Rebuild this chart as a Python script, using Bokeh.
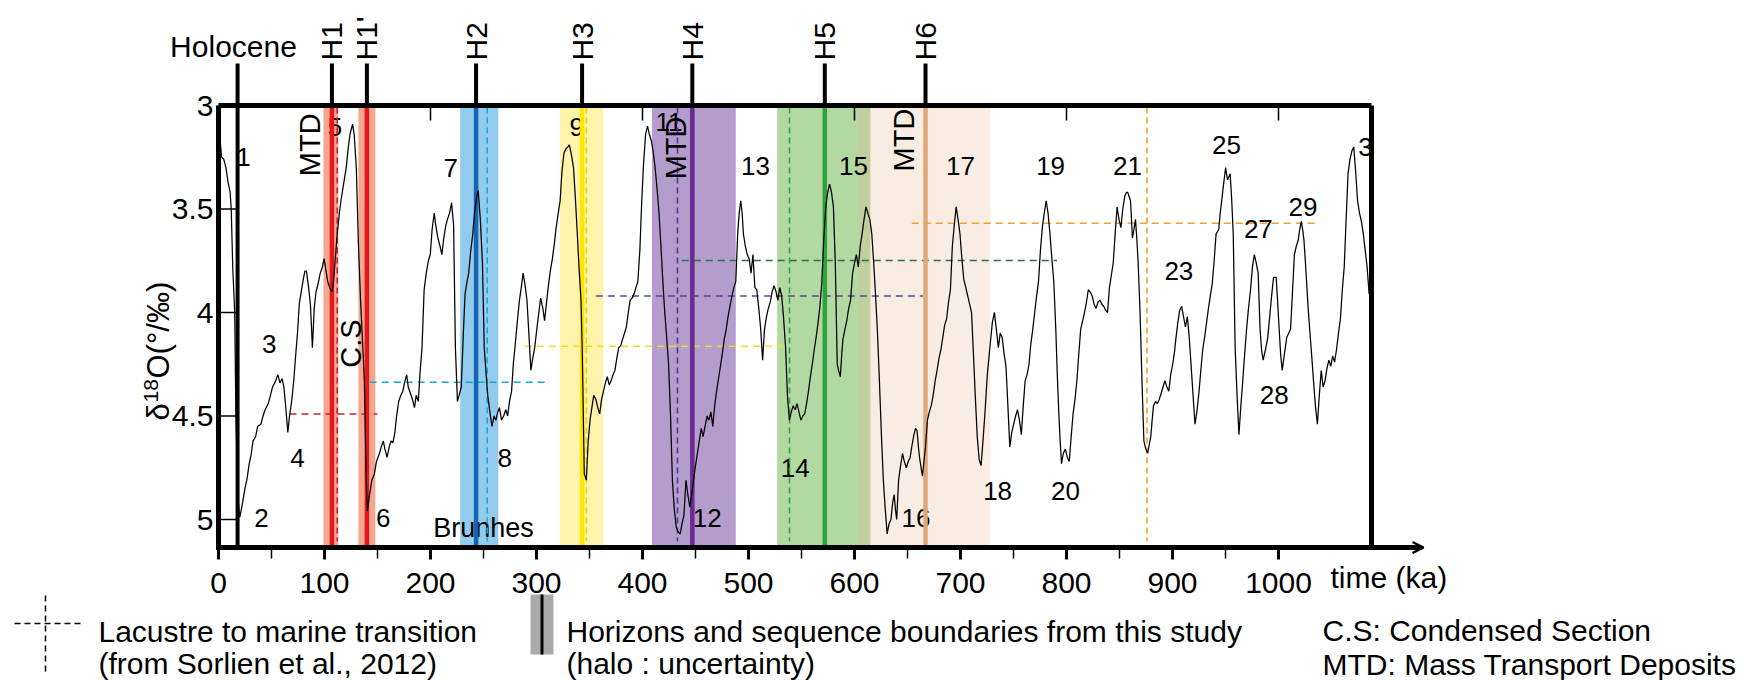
import math
from bokeh.plotting import figure
from bokeh.models import Range1d, Arrow, OpenHead
from bokeh.core.properties import value
from bokeh.embed import file_html
from bokeh.resources import INLINE

FONT = "Liberation Sans"

# ---------------- data ----------------
age_ka = [0, 1.5, 3, 5, 7, 9, 11, 12, 13.5, 15.3, 16.4, 18.3, 20, 22, 25, 27, 29, 31, 32.6, 35, 37, 40, 42, 44, 47, 49, 51, 54, 56, 58, 60, 61.7, 63.5, 65.4, 67, 69, 71, 72.6, 74.5, 76.2, 78, 80, 81.5, 83, 85, 86.7, 88.6, 90.3, 92, 94, 96, 98, 99.6, 101.5, 103, 105, 107, 108.5, 110, 112, 114, 115.5, 118, 120.5, 122.5, 124, 126.5, 128, 130, 132, 134, 136, 137.6, 139.4, 140.5, 142.5, 144.7, 147, 149, 151.9, 153.5, 155.5, 157, 159, 161, 162.8, 164.5, 166.4, 168, 170, 172, 173.9, 175.5, 177.5, 179, 181, 183, 184.9, 186.5, 188.5, 190, 192, 194, 196, 198, 199.8, 201.5, 203.5, 205, 207, 209, 210.8, 212.5, 214.4, 216, 218, 219.9, 221.8, 223.5, 225.4, 227, 229, 231, 232.6, 234.5, 236, 238, 239.9, 241.5, 243.6, 245, 247, 249, 250.7, 252.5, 254, 256, 258, 260, 261.7, 263.5, 265, 267, 269, 271, 272.8, 274.5, 276.5, 278.1, 280, 281.8, 283.7, 285.6, 287.4, 289, 291, 293, 294.7, 296.5, 298.3, 301, 303.9, 306, 307.6, 309.5, 311, 313, 315, 317, 318.5, 320.5, 322.3, 324, 325.9, 327.7, 329.6, 331, 333, 334.9, 336.7, 338.5, 340.3, 342, 343.1, 345.1, 347, 348.8, 350.5, 352.5, 354, 356, 357.8, 359.6, 361.4, 363.2, 365, 366.8, 368.6, 370.4, 372.2, 374, 375.8, 377.6, 379.4, 381.2, 383, 384.8, 386.6, 388.4, 390.2, 392, 393.8, 395.6, 397.5, 399.3, 401, 402.9, 404.7, 406.5, 408.3, 410, 411.9, 413.7, 415.6, 417.4, 419.2, 421, 422.8, 424.6, 426.4, 428.2, 430, 431.9, 433.7, 435.5, 437.3, 439.1, 441, 442.8, 444.6, 446.4, 448.2, 450, 451.8, 453.6, 455.4, 457.2, 459, 461, 462.7, 464.5, 466.3, 468.1, 469.9, 471.7, 473.5, 475.3, 477.1, 479, 480.7, 482.5, 484.4, 486.2, 488, 489.8, 491.2, 492.7, 494, 495.2, 497, 498.8, 500.6, 502.4, 504.2, 506, 507.8, 509.7, 511.5, 513.3, 515.1, 517, 518.7, 520.5, 522.3, 524.1, 526, 527.7, 529.5, 531.3, 533, 535, 536.8, 538.6, 540.4, 542.2, 544, 545.8, 547.6, 549.4, 551.2, 553, 554.8, 556.6, 558.4, 560.2, 562, 563.8, 565.6, 567.4, 569.2, 571, 572.9, 574.7, 576.5, 578.3, 580.1, 581.9, 583.7, 585, 586.6, 588, 589.1, 591, 592.7, 594.5, 596.3, 598.2, 600, 601.8, 603.6, 605.4, 607.2, 609, 610.8, 612.6, 614.5, 616.3, 618.1, 619.9, 621.7, 623.5, 625.3, 627.2, 629, 630.8, 632.6, 634.4, 636, 637.4, 638.6, 639.8, 641.6, 643.5, 645.3, 647, 648.9, 650.7, 652.5, 654.3, 656.1, 657.6, 659, 660.3, 661.6, 664.1, 665.5, 667, 668.8, 670.6, 672.4, 674.2, 676.1, 677.9, 679.7, 681.5, 683.3, 685.1, 686.9, 688.7, 690.5, 692.3, 694.1, 695.9, 697.7, 699.5, 701.3, 703.1, 705, 706.8, 708.6, 710.4, 712.2, 714, 715.8, 717.6, 719.4, 721.2, 723, 725.3, 727.7, 730, 732, 733.8, 735.7, 737.5, 739.3, 741.1, 742.9, 744.7, 746.5, 748.3, 750.1, 752, 753.8, 755.6, 757.4, 759.2, 761, 762.8, 764.6, 766.4, 768.2, 770, 771.8, 773.6, 775.4, 777.2, 779, 780.8, 782.6, 784.4, 786.2, 788, 789.9, 791.3, 792.8, 794, 795.3, 797, 798.9, 800.8, 802.6, 804.4, 806.2, 808, 809.8, 811.6, 813.4, 815.2, 817, 818.8, 820.6, 822.4, 824.2, 826, 827.9, 829.7, 831.5, 833.3, 835.1, 837, 838.7, 840.5, 842.3, 844.1, 845.9, 847.7, 849.5, 851.3, 853.1, 854.9, 856.5, 857.8, 859, 860.4, 862.2, 863.6, 865.1, 866.4, 867.6, 869.4, 871.2, 873, 874.8, 876.6, 878, 879.5, 880.8, 882.1, 884, 885.7, 887.5, 889.3, 891, 892.9, 894.7, 896.5, 898.3, 900.2, 901.9, 903.1, 905, 906.8, 908.6, 910.4, 912.2, 914, 915.8, 917.6, 919.4, 921.2, 923, 924.9, 926.7, 928.5, 930.3, 932.1, 933.9, 935.7, 937.5, 939.3, 941.1, 943.6, 945, 946.4, 948.2, 950.1, 951.9, 954.4, 955.8, 957.3, 959.1, 960.9, 962.7, 964.5, 966.3, 968.1, 969.9, 971.7, 973.6, 975.4, 977.2, 979, 980.8, 982.6, 984, 985.5, 987.7, 989.9, 991.7, 993.5, 995.3, 997.8, 999.2, 1000.6, 1002, 1003.5, 1005.6, 1007.8, 1009.6, 1011.4, 1013.2, 1015, 1016.8, 1018.6, 1020, 1021.5, 1022.8, 1024, 1025.3, 1026.6, 1028, 1029.4, 1031.2, 1033, 1034.8, 1036.7, 1038.5, 1040.3, 1042.1, 1043.9, 1045.7, 1047.5, 1049.3, 1051.1, 1052.9, 1054.7, 1056.6, 1058.4, 1060.2, 1062, 1063.8, 1065.6, 1067.4, 1069.2, 1071, 1072.8, 1074.6, 1076.4, 1078.2, 1080, 1081.8, 1083.6, 1085.5, 1087.5]
d18o = [3.16, 3.17, 3.25, 3.26, 3.30, 3.37, 3.42, 3.50, 3.79, 4.00, 4.49, 4.89, 4.99, 4.94, 4.85, 4.80, 4.73, 4.68, 4.62, 4.60, 4.55, 4.54, 4.50, 4.47, 4.44, 4.40, 4.36, 4.33, 4.30, 4.34, 4.32, 4.36, 4.46, 4.58, 4.50, 4.43, 4.33, 4.22, 4.10, 3.96, 3.90, 3.84, 3.80, 3.80, 3.88, 3.96, 4.17, 3.98, 3.90, 3.86, 3.81, 3.78, 3.74, 3.80, 3.85, 3.88, 3.90, 3.85, 3.75, 3.62, 3.52, 3.46, 3.38, 3.30, 3.20, 3.14, 3.09, 3.14, 3.30, 3.67, 3.94, 4.15, 4.33, 4.81, 4.96, 4.88, 4.81, 4.78, 4.72, 4.68, 4.65, 4.62, 4.66, 4.70, 4.65, 4.62, 4.63, 4.58, 4.50, 4.43, 4.40, 4.38, 4.34, 4.30, 4.36, 4.39, 4.42, 4.46, 4.40, 4.43, 4.30, 4.17, 3.89, 3.81, 3.75, 3.72, 3.60, 3.52, 3.58, 3.64, 3.68, 3.72, 3.64, 3.58, 3.55, 3.52, 3.47, 3.58, 4.17, 4.43, 4.40, 4.36, 4.10, 3.91, 3.85, 3.81, 3.70, 3.62, 3.52, 3.44, 3.41, 3.55, 3.76, 4.17, 4.30, 4.40, 4.48, 4.55, 4.50, 4.52, 4.48, 4.46, 4.52, 4.50, 4.47, 4.50, 4.43, 4.38, 4.25, 4.15, 4.05, 3.95, 3.88, 3.81, 3.86, 3.94, 4.12, 4.28, 4.22, 4.17, 4.05, 3.93, 3.98, 4.04, 3.95, 3.88, 3.80, 3.74, 3.66, 3.59, 3.52, 3.46, 3.32, 3.23, 3.21, 3.20, 3.19, 3.24, 3.30, 3.45, 3.62, 3.80, 3.94, 4.17, 4.78, 4.81, 4.62, 4.52, 4.45, 4.40, 4.42, 4.46, 4.49, 4.42, 4.38, 4.34, 4.31, 4.35, 4.33, 4.30, 4.28, 4.22, 4.17, 4.16, 4.13, 4.10, 4.07, 4.00, 3.94, 3.93, 3.91, 3.88, 3.85, 3.70, 3.46, 3.28, 3.14, 3.10, 3.14, 3.17, 3.22, 3.30, 3.40, 3.52, 3.68, 3.85, 4.00, 4.12, 4.25, 4.49, 4.81, 4.95, 5.04, 5.06, 5.07, 5.02, 4.98, 4.81, 4.88, 4.94, 4.88, 4.81, 4.74, 4.68, 4.62, 4.56, 4.60, 4.55, 4.50, 4.52, 4.48, 4.55, 4.45, 4.38, 4.32, 4.26, 4.20, 4.13, 4.08, 4.02, 3.97, 3.92, 3.88, 3.85, 3.62, 3.52, 3.46, 3.52, 3.62, 3.68, 3.72, 3.74, 3.81, 3.72, 3.88, 3.89, 3.98, 4.08, 4.23, 4.08, 4.02, 3.98, 3.95, 3.90, 3.87, 3.90, 3.94, 3.88, 3.92, 4.02, 4.17, 4.41, 4.52, 4.48, 4.45, 4.47, 4.44, 4.48, 4.52, 4.50, 4.49, 4.44, 4.38, 4.31, 4.25, 4.18, 4.12, 4.05, 3.97, 3.85, 3.65, 3.49, 3.42, 3.38, 3.42, 3.49, 3.76, 4.25, 4.28, 4.31, 4.20, 4.13, 4.08, 4.04, 3.98, 3.94, 3.81, 3.76, 3.72, 3.78, 3.68, 3.62, 3.55, 3.49, 3.52, 3.55, 3.62, 3.76, 3.92, 4.10, 4.33, 4.58, 4.81, 4.95, 5.07, 5.02, 5.00, 4.92, 4.88, 4.95, 5.00, 4.81, 4.74, 4.68, 4.72, 4.75, 4.72, 4.70, 4.64, 4.59, 4.56, 4.57, 4.65, 4.71, 4.79, 4.72, 4.65, 4.52, 4.48, 4.45, 4.40, 4.33, 4.28, 4.22, 4.18, 4.12, 4.06, 4.03, 3.95, 3.89, 3.68, 3.58, 3.49, 3.55, 3.62, 3.74, 3.84, 3.88, 3.92, 3.96, 4.00, 4.20, 4.41, 4.60, 4.71, 4.74, 4.62, 4.49, 4.30, 4.17, 4.05, 4.00, 4.08, 4.17, 4.10, 4.12, 4.20, 4.26, 4.45, 4.65, 4.58, 4.54, 4.50, 4.47, 4.52, 4.59, 4.45, 4.33, 4.30, 4.25, 4.15, 4.08, 4.00, 3.92, 3.85, 3.70, 3.59, 3.52, 3.46, 3.52, 3.62, 3.74, 3.85, 4.08, 4.30, 4.49, 4.62, 4.73, 4.68, 4.66, 4.70, 4.72, 4.60, 4.49, 4.42, 4.33, 4.20, 4.08, 4.04, 4.00, 3.95, 3.89, 3.90, 3.92, 3.96, 3.98, 3.95, 3.94, 3.96, 3.97, 3.99, 4.00, 3.88, 3.82, 3.76, 3.62, 3.49, 3.55, 3.59, 3.50, 3.44, 3.42, 3.42, 3.44, 3.46, 3.64, 3.60, 3.55, 3.65, 3.76, 4.00, 4.33, 4.62, 4.66, 4.68, 4.64, 4.60, 4.52, 4.45, 4.43, 4.44, 4.42, 4.39, 4.36, 4.33, 4.36, 4.38, 4.30, 4.25, 4.19, 4.13, 4.05, 3.99, 3.97, 4.02, 4.07, 4.02, 4.12, 4.26, 4.40, 4.54, 4.48, 4.39, 4.28, 4.18, 4.12, 4.05, 3.98, 3.92, 3.86, 3.75, 3.62, 3.60, 3.52, 3.46, 3.38, 3.30, 3.36, 3.33, 3.45, 3.62, 4.17, 4.40, 4.59, 4.45, 4.33, 4.20, 4.08, 3.98, 3.89, 3.78, 3.72, 3.76, 3.81, 4.08, 4.18, 4.23, 4.18, 4.12, 4.02, 3.92, 3.83, 3.83, 3.95, 4.08, 4.20, 4.28, 4.20, 4.12, 4.10, 4.08, 3.90, 3.72, 3.68, 3.65, 3.60, 3.56, 3.60, 3.65, 3.75, 3.86, 3.98, 4.08, 4.20, 4.33, 4.45, 4.54, 4.40, 4.28, 4.36, 4.33, 4.27, 4.23, 4.26, 4.21, 4.24, 4.18, 4.10, 4.03, 3.89, 3.78, 3.55, 3.33, 3.26, 3.22, 3.20, 3.32, 3.46, 3.52, 3.56, 3.62, 3.70, 3.78, 3.91, 3.85]

x_ticks = [0, 100, 200, 300, 400, 500, 600, 700, 800, 900, 1000]
x_tick_labels = ["0", "100", "200", "300", "400", "500", "600", "700", "800", "900", "1000"]
x_minor_ticks = [50, 150, 250, 350, 450, 550, 650, 750, 850, 950]
y_ticks = [3, 3.5, 4, 4.5, 5]
y_tick_labels = ["3", "3.5", "4", "4.5", "5"]
top_ticks = [200, 400, 600, 800, 1000]

holocene_age = 18
horizon_names = ["H1", "H1'", "H2", "H3", "H4", "H5", "H6"]
horizon_age = [107, 140, 243, 343, 447, 572, 667]
halo_start = [99, 132, 228, 322, 409, 527, 603]
halo_end = [113, 148, 264, 363, 488, 615, 728]

transition_age = [112, 253.5, 347, 433, 538.7, 876]
transition_level = [4.49, 4.337, 4.163, 3.92, 3.749, 3.569]
transition_from = [67, 142.6, 289, 356, 437, 654]
transition_to = [150, 312.6, 536.5, 664.6, 791, 1037]

mis_text = ["1", "2", "3", "4", "5", "6", "7", "8", "9", "11", "12", "13", "14", "15",
            "16", "17", "18", "19", "20", "21", "23", "25", "27", "28", "29", "3"]
mis_age = [23.6, 40.6, 47.8, 74.6, 110, 155.4, 219, 270, 338, 425, 461, 506.6, 544, 599,
           658, 700, 735, 785, 799, 857.6, 906, 951, 981, 996, 1023, 1082]
mis_d18o = [3.25, 4.995, 4.15, 4.705, 3.105, 4.995, 3.30, 4.705, 3.105, 3.08, 4.995, 3.29, 4.75, 3.29,
            4.995, 3.29, 4.86, 3.29, 4.86, 3.29, 3.80, 3.19, 3.595, 4.40, 3.49, 3.20]

mtd_age = [86, 432, 646.6]
mtd_d18o = [3.19, 3.205, 3.167]
cs_age = [124.6]
cs_d18o = [4.15]
brunhes_age = [250]
brunhes_d18o = [5.04]

# ---------------- styles ----------------
horizon_color = ["#e8161b", "#e8161b", "#1664b0", "#ffe600", "#6b2a8f", "#2aa33a", "#e0a878"]
halo_color = ["#f5a68e", "#f5a68e", "#92cbee", "#fdf3aa", "#b49ccd", "#b3d9a3", "#e6b48c"]
halo_alpha = [1, 1, 1, 1, 1, 1, 0.25]
trans_v_color = ["#c8202e", "#1aa7d0", "#e8d400", "#4e3a8c", "#3d9b4a", "#f0a030"]
trans_h_color = ["#c0282d", "#1aa7d0", "#f0dc20", "#5a4490", "#2e6e48", "#f0a030"]

# ---------------- geometry (page pixels -> data) ----------------
W, H = 1760, 680
X0_PX, PX_PER_KA = 218.0, 1.06       # page x of 0 ka, pixels per ka
Y3_PX, PX_PER_UNIT = 105.0, 207.0    # page y of 3 permil, pixels per permil


def px2x(px):
    return (px - X0_PX) / PX_PER_KA


def py2y(py):
    return 3.0 + (py - Y3_PX) / PX_PER_UNIT


def dx(px):
    return px / PX_PER_KA


def dy(py):
    return py / PX_PER_UNIT


BOX_TOP = 3.0
BOX_BOT = py2y(547)
BOX_RIGHT = px2x(1371)
STUB_TOP = py2y(63)

p = figure(width=W, height=H, title=None,
           x_range=Range1d(px2x(0), px2x(W)),
           y_range=Range1d(py2y(H), py2y(0)),
           output_backend="svg", toolbar_location=None,
           x_axis_location=None, y_axis_location=None,
           min_border=0, min_border_left=0, min_border_right=0,
           min_border_top=0, min_border_bottom=0)
p.outline_line_color = None
p.grid.visible = False
p.background_fill_color = "white"
p.border_fill_color = "white"


def add_text(xs, ys, texts, size, align="center", baseline="middle", angle=0.0):
    p.text(x=xs, y=ys, text=texts, angle=angle, text_font=value(FONT),
           text_font_size=size, text_align=align, text_baseline=baseline,
           text_color="black")


# halos (uncertainty)
for i in range(len(horizon_names)):
    p.quad(left=[halo_start[i]], right=[halo_end[i]], top=[BOX_TOP], bottom=[BOX_BOT],
           fill_color=halo_color[i], fill_alpha=halo_alpha[i], line_color=None)

# horizontal dashed transition levels
for i in range(len(transition_age)):
    p.segment(x0=[transition_from[i]], y0=[transition_level[i]],
              x1=[transition_to[i]], y1=[transition_level[i]],
              line_color=trans_h_color[i], line_width=1.6, line_dash="7 5")

# MIS numbers
add_text(mis_age, mis_d18o, mis_text, "26px")
add_text(brunhes_age, brunhes_d18o, ["Brunhes"], "27px")

# vertical dashed transitions
for i in range(len(transition_age)):
    p.segment(x0=[transition_age[i]], y0=[BOX_TOP + 0.01], x1=[transition_age[i]], y1=[BOX_BOT - 0.03],
              line_color=trans_v_color[i], line_width=1.6, line_dash="6 4")

# horizon lines inside the frame
for i in range(len(horizon_names)):
    p.segment(x0=[horizon_age[i]], y0=[BOX_TOP], x1=[horizon_age[i]], y1=[BOX_BOT],
              line_color=horizon_color[i], line_width=4.5)

# d18O curve
p.line(age_ka, d18o, line_color="black", line_width=1.25)

# MTD & C.S labels
add_text(mtd_age, mtd_d18o, ["MTD"] * len(mtd_age), "29px", angle=math.pi / 2)
add_text(cs_age, cs_d18o, ["C.S"], "29px", angle=math.pi / 2)

# ---------------- axes ----------------
# box (top, left, right) and bottom axis line with arrow
p.segment(x0=[0, 0, BOX_RIGHT], y0=[BOX_TOP, BOX_TOP, BOX_TOP],
          x1=[BOX_RIGHT, 0, BOX_RIGHT], y1=[BOX_TOP, BOX_BOT, BOX_BOT],
          line_color="black", line_width=5)
arrow_tip = px2x(1423)
p.segment(x0=[0 - dx(2.5)], y0=[BOX_BOT], x1=[arrow_tip - dx(2)], y1=[BOX_BOT],
          line_color="black", line_width=5)
p.add_layout(Arrow(end=OpenHead(size=11, line_width=2.5, line_color="black"),
                   x_start=BOX_RIGHT, y_start=BOX_BOT, x_end=arrow_tip, y_end=BOX_BOT,
                   line_width=1, line_color="black"))

# x ticks (outward) and labels
p.segment(x0=x_ticks, y0=[BOX_BOT] * len(x_ticks), x1=x_ticks,
          y1=[BOX_BOT + dy(12)] * len(x_ticks), line_color="black", line_width=3)
p.segment(x0=x_minor_ticks, y0=[BOX_BOT] * len(x_minor_ticks), x1=x_minor_ticks,
          y1=[BOX_BOT + dy(11)] * len(x_minor_ticks), line_color="black", line_width=1.5)
add_text(x_ticks, [py2y(582)] * len(x_ticks), x_tick_labels, "30px", baseline="alphabetic")
add_text([px2x(1330)], [py2y(577)], ["time (ka)"], "30px", align="left", baseline="alphabetic")

# y ticks (inward) and labels
p.segment(x0=[0] * len(y_ticks), y0=y_ticks, x1=[dx(18)] * len(y_ticks), y1=y_ticks,
          line_color="black", line_width=1.5)
add_text([px2x(213)] * len(y_ticks), y_ticks, y_tick_labels, "30px", align="right")

# y-axis title: delta, raised 18, O(per mil)
add_text([px2x(158)], [py2y(420)], ["δ"], "31px", align="left", baseline="alphabetic",
         angle=math.pi / 2)
add_text([px2x(150)], [py2y(402)], ["18"], "21px", align="left", baseline="alphabetic",
         angle=math.pi / 2)
add_text([px2x(158)], [py2y(378)], ["O(°/‰)"], "31px", align="left", baseline="alphabetic",
         angle=math.pi / 2)

# top inward ticks
p.segment(x0=top_ticks, y0=[BOX_TOP] * len(top_ticks), x1=top_ticks,
          y1=[BOX_TOP + dy(15)] * len(top_ticks), line_color="black", line_width=1.5)

# Holocene line and horizon stubs above the frame
p.segment(x0=[holocene_age], y0=[STUB_TOP], x1=[holocene_age], y1=[BOX_BOT],
          line_color="black", line_width=4)
p.segment(x0=horizon_age, y0=[STUB_TOP] * len(horizon_age), x1=horizon_age,
          y1=[BOX_TOP] * len(horizon_age), line_color="black", line_width=4)
add_text([px2x(233)], [py2y(46)], ["Holocene"], "30px")
add_text(horizon_age, [py2y(60)] * len(horizon_age), horizon_names, "30px",
         align="left", angle=math.pi / 2)

# ---------------- legend ----------------
p.segment(x0=[px2x(14)], y0=[py2y(623)], x1=[px2x(83)], y1=[py2y(623)],
          line_color="black", line_width=1.5, line_dash="6 4")
p.segment(x0=[px2x(45)], y0=[py2y(595)], x1=[px2x(45)], y1=[py2y(671)],
          line_color="black", line_width=1.5, line_dash="6 4")
p.quad(left=[px2x(530)], right=[px2x(553)], top=[py2y(594)], bottom=[py2y(654)],
       fill_color="#aaaaaa", line_color=None)
p.segment(x0=[px2x(541.5)], y0=[py2y(594)], x1=[px2x(541.5)], y1=[py2y(654)],
          line_color="black", line_width=3)

add_text([px2x(98), px2x(98)], [py2y(631), py2y(663)],
         ["Lacustre to marine transition", "(from Sorlien et al., 2012)"],
         "30px", align="left", baseline="alphabetic")
add_text([px2x(566), px2x(566)], [py2y(631), py2y(663)],
         ["Horizons and sequence boundaries from this study", "(halo : uncertainty)"],
         "30px", align="left", baseline="alphabetic")
add_text([px2x(1322), px2x(1322)], [py2y(630), py2y(664)],
         ["C.S: Condensed Section", "MTD: Mass Transport Deposits"],
         "30px", align="left", baseline="alphabetic")

open("out.html", "w").write(file_html(p, INLINE))
